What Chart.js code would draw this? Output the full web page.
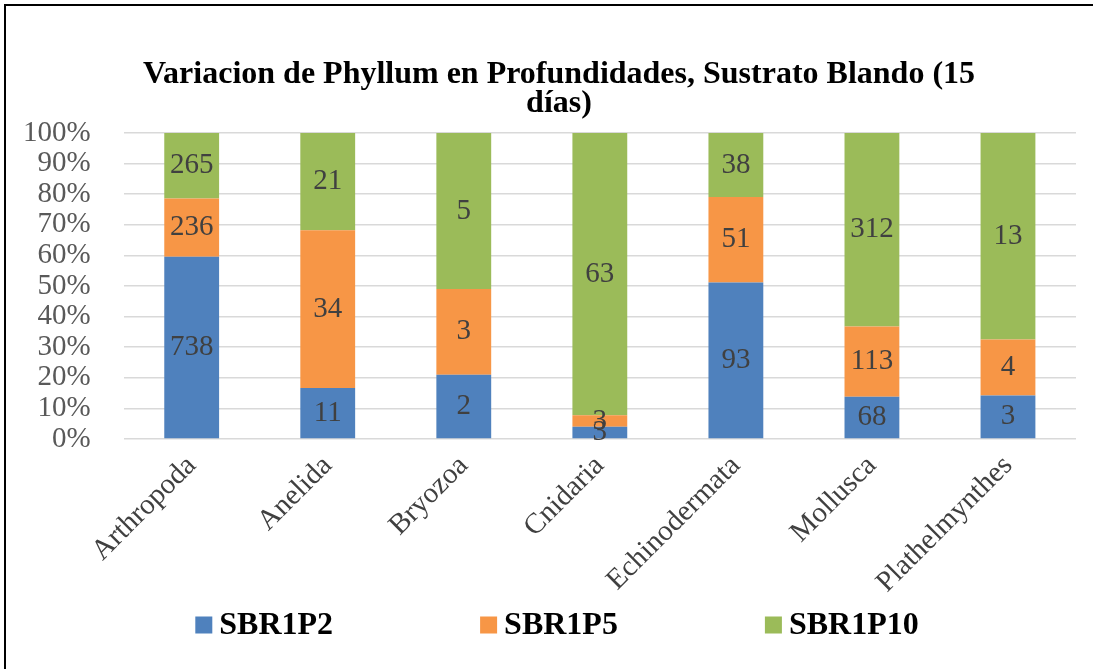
<!DOCTYPE html>
<html>
<head>
<meta charset="utf-8">
<script src="https://cdn.jsdelivr.net/npm/chart.js@4.4.0/dist/chart.umd.min.js"></script>
<style>
  html, body { margin: 0; padding: 0; background: #fff; }
  canvas { display: block; }
</style>
</head>
<body>
<canvas id="grafico" width="1103" height="669"></canvas>
<script>
// Datos del gráfico
const phyllum = ['Arthropoda', 'Anelida', 'Bryozoa', 'Cnidaria', 'Echinodermata', 'Mollusca', 'Plathelmynthes'];
const sbr1p2 = [738, 11, 2.1, 2.7, 93, 68, 2.8];
const sbr1p5 = [236, 34, 2.8, 2.6, 51, 113, 3.6];
const sbr1p10 = [265, 21, 5.1, 63, 38, 312, 13.3];
const series = ['SBR1P2', 'SBR1P5', 'SBR1P10'];
const colores = ['#4F81BD', '#F79646', '#9BBB59'];
const tituloLineas = ['Variacion de Phyllum en Profundidades, Sustrato Blando (15', 'días)'];

const FUENTE = "'Liberation Serif', 'Times New Roman', serif";

// --- Convertir a porcentajes (100% apilado) ---
const totales = phyllum.map((_, i) => sbr1p2[i] + sbr1p5[i] + sbr1p10[i]);
function aPorcentaje(arr) { return arr.map((v, i) => v / totales[i] * 100); }
const crudos = [sbr1p2, sbr1p5, sbr1p10];

// Título dibujado a mano (centrado como en el original)
const pluginTitulo = {
    id: 'titulo',
    afterDraw(chart) {
        const ctx = chart.ctx;
        ctx.save();
        ctx.font = `bold 32px ${FUENTE}`;
        ctx.fillStyle = '#000';
        ctx.textAlign = 'center';
        ctx.textBaseline = 'middle';
        tituloLineas.forEach((linea, i) => ctx.fillText(linea, 559, 75 + i * 29));
        ctx.restore();
    }
};

// Marco superior e izquierdo
const pluginMarco = {
    id: 'marco',
    beforeDraw(chart) {
        const ctx = chart.ctx;
        ctx.save();
        ctx.strokeStyle = '#000';
        ctx.lineWidth = 2;
        ctx.beginPath();
        ctx.moveTo(1093, 5);
        ctx.lineTo(5, 5);
        ctx.lineTo(5, chart.height);
        ctx.stroke();
        ctx.restore();
    }
};

// Etiquetas de valor dentro de cada segmento
const pluginEtiquetas = {
    id: 'etiquetas',
    afterDatasetsDraw(chart) {
        const ctx = chart.ctx;
        ctx.save();
        ctx.font = `29px ${FUENTE}`;
        ctx.fillStyle = '#404040';
        ctx.textAlign = 'center';
        ctx.textBaseline = 'middle';
        chart.data.datasets.forEach((ds, d) => {
            const meta = chart.getDatasetMeta(d);
            meta.data.forEach((bar, i) => {
                const y = (bar.y + bar.base) / 2;
                ctx.fillText(String(Math.round(crudos[d][i])), bar.x, y);
            });
        });
        ctx.restore();
    }
};

// Leyenda inferior
const pluginLeyenda = {
    id: 'leyenda',
    afterDraw(chart) {
        const ctx = chart.ctx;
        ctx.save();
        ctx.font = `bold 32px ${FUENTE}`;
        ctx.textBaseline = 'middle';
        ctx.textAlign = 'left';
        const caja = 17, sep = 7, hueco = 147;
        const anchos = series.map(s => caja + sep + ctx.measureText(s).width);
        const total = anchos.reduce((a, b) => a + b, 0) + hueco * (series.length - 1);
        let x = 557 - total / 2;
        const y = 625;
        series.forEach((s, i) => {
            ctx.fillStyle = colores[i];
            ctx.fillRect(x, y - caja / 2, caja, caja);
            ctx.fillStyle = '#000';
            ctx.fillText(s, x + caja + sep, y + 1);
            x += anchos[i] + hueco;
        });
        ctx.restore();
    }
};

function dibujar() {
    const ctx = document.getElementById('grafico').getContext('2d');
    new Chart(ctx, {
        type: 'bar',
        data: {
            labels: phyllum,
            datasets: series.map((s, i) => ({
                label: s,
                data: aPorcentaje(crudos[i]),
                backgroundColor: colores[i],
                borderWidth: 0,
                categoryPercentage: 1,
                barPercentage: 0.403
            }))
        },
        options: {
            responsive: false,
            animation: false,
            layout: { padding: { left: 23, right: 27, top: 133, bottom: 67 } },
            plugins: {
                legend: { display: false },
                title: { display: false },
                tooltip: { enabled: false }
            },
            scales: {
                x: {
                    stacked: true,
                    grid: { display: false },
                    border: { display: false },
                    // las etiquetas giradas no deben empujar el área del gráfico
                    afterFit: s => { s.paddingLeft = 0; s.paddingRight = 0; },
                    ticks: {
                        font: { family: FUENTE, size: 29 },
                        color: '#404040',
                        minRotation: 45,
                        maxRotation: 45,
                        padding: 2
                    }
                },
                y: {
                    stacked: true,
                    min: 0,
                    max: 100,
                    grid: { color: '#d9d9d9', lineWidth: 1.5, drawTicks: false },
                    border: { display: false },
                    // Chart.js reserva el padding dos veces; quitamos el de la izquierda
                    afterFit: s => { s.width -= s.options.ticks.padding; },
                    ticks: {
                        stepSize: 10,
                        autoSkip: false,
                        font: { family: FUENTE, size: 29 },
                        color: '#595959',
                        padding: 33,
                        callback: v => v + '%'
                    }
                }
            }
        },
        plugins: [pluginMarco, pluginEtiquetas, pluginTitulo, pluginLeyenda]
    });
}

Promise.all([
    document.fonts.load(`bold 32px "Liberation Serif"`),
    document.fonts.load(`29px "Liberation Serif"`)
]).then(dibujar, dibujar);
</script>
</body>
</html>
